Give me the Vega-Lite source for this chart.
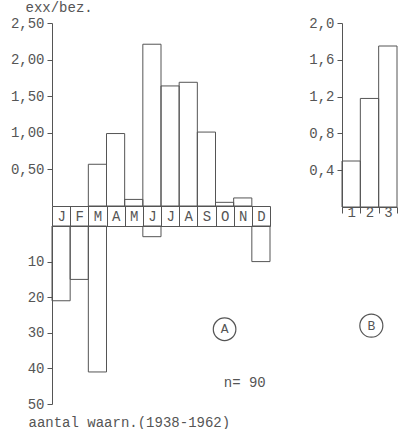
{
  "$schema": "https://vega.github.io/schema/vega-lite/v6.json",
  "padding": {"left": 10, "top": 0, "right": 5, "bottom": 0},
  "columns": 2,
  "spacing": {"row": 19, "column": 72},
  "bounds": "flush",
  "align": "each",
  "config": {
    "view": {"stroke": null},
    "font": "Liberation Mono",
    "axis": {
      "labelFont": "Liberation Mono", "labelFontSize": 14, "labelColor": "#555",
      "titleFont": "Liberation Mono", "titleFontSize": 14, "titleFontWeight": "normal", "titleColor": "#555",
      "domainColor": "#555", "tickColor": "#555", "grid": false, "tickSize": 5, "labelPadding": 3,
      "domainWidth": 1, "tickWidth": 1, "labelOverlap": false
    },
    "text": {"font": "Liberation Mono", "fontSize": 14, "color": "#555"}
  },
  "concat": [
    {
      "width": 218, "height": 183,
      "data": {"values": [
        {"m": 3, "v": 0.57}, {"m": 4, "v": 0.99}, {"m": 5, "v": 0.09}, {"m": 6, "v": 2.21},
        {"m": 7, "v": 1.64}, {"m": 8, "v": 1.69}, {"m": 9, "v": 1.01}, {"m": 10, "v": 0.05}, {"m": 11, "v": 0.11}
      ]},
      "mark": {"type": "bar", "filled": false, "stroke": "#555", "strokeWidth": 1},
      "encoding": {
        "x": {"field": "m", "type": "ordinal",
          "scale": {"domain": [1,2,3,4,5,6,7,8,9,10,11,12], "paddingInner": 0, "paddingOuter": 0},
          "axis": {"title": null, "orient": "bottom", "tickBand": "extent", "tickSize": 20, "labelPadding": -10,
            "labelBaseline": "middle", "labelAngle": 0,
            "labelExpr": "['J','F','M','A','M','J','J','A','S','O','N','D'][datum.value-1]"}},
        "y": {"field": "v", "type": "quantitative", "scale": {"domain": [0, 2.5], "nice": false},
          "axis": {"title": "exx/bez.", "values": [0.5, 1, 1.5, 2, 2.5],
            "labelExpr": "replace(format(datum.value,'.2f'),'.',',')",
            "titleAngle": 0, "titleAlign": "left", "titleBaseline": "alphabetic", "titleX": -27, "titleY": -12}}
      }
    },
    {
      "width": 55, "height": 184,
      "data": {"values": [{"k": 1, "v": 0.5}, {"k": 2, "v": 1.18}, {"k": 3, "v": 1.75}]},
      "mark": {"type": "bar", "filled": false, "stroke": "#555", "strokeWidth": 1},
      "encoding": {
        "x": {"field": "k", "type": "ordinal", "scale": {"domain": [1,2,3], "paddingInner": 0, "paddingOuter": 0},
          "axis": {"title": null, "tickBand": "extent", "tickSize": 6, "labelPadding": -1, "labelBaseline": "middle", "labelAngle": 0}},
        "y": {"field": "v", "type": "quantitative", "scale": {"domain": [0, 2], "nice": false},
          "axis": {"title": null, "values": [0.4, 0.8, 1.2, 1.6, 2.0],
            "labelExpr": "replace(format(datum.value,'.1f'),'.',',')"}}
      }
    },
    {
      "width": 218, "height": 178,
      "encoding": {
        "x": {"field": "m", "type": "ordinal",
          "scale": {"domain": [1,2,3,4,5,6,7,8,9,10,11,12], "paddingInner": 0, "paddingOuter": 0},
          "axis": {"title": null, "orient": "top", "labels": false, "ticks": false, "domain": true}},
        "y": {"field": "v", "type": "quantitative", "scale": {"domain": [0, 50], "nice": false, "reverse": true},
          "axis": {"title": "aantal waarn.(1938-1962)", "values": [10, 20, 30, 40, 50],
            "titleAngle": 0, "titleAlign": "left", "titleBaseline": "alphabetic", "titleX": -24, "titleY": 200}}
      },
      "layer": [
        {
          "data": {"values": [{"m": 1, "v": 21}, {"m": 2, "v": 15}, {"m": 3, "v": 41}, {"m": 6, "v": 3}, {"m": 12, "v": 10}]},
          "mark": {"type": "bar", "filled": false, "stroke": "#555", "strokeWidth": 1}
        },
        {
          "data": {"values": [{"m": 10, "v": 29, "t": "A"}]},
          "mark": {"type": "point", "shape": "circle", "size": 510, "filled": false, "stroke": "#555", "strokeWidth": 1.2, "opacity": 1}
        },
        {
          "data": {"values": [{"m": 10, "v": 29, "t": "A"}]},
          "mark": {"type": "text", "fontSize": 13, "baseline": "middle", "align": "center"},
          "encoding": {"text": {"field": "t"}}
        },
        {
          "data": {"values": [{"m": 11, "v": 44.2, "t": "n= 90"}]},
          "mark": {"type": "text", "fontSize": 14, "baseline": "middle", "align": "center", "dx": 2},
          "encoding": {"text": {"field": "t"}}
        }
      ]
    },
    {
      "width": 55, "height": 178,
      "data": {"values": [{"x": 1.6, "v": 28, "t": "B"}]},
      "encoding": {
        "x": {"field": "x", "type": "quantitative", "scale": {"domain": [0, 3], "nice": false}, "axis": null},
        "y": {"field": "v", "type": "quantitative", "scale": {"domain": [0, 50], "nice": false, "reverse": true}, "axis": null}
      },
      "layer": [
        {"mark": {"type": "point", "shape": "circle", "size": 530, "filled": false, "stroke": "#555", "strokeWidth": 1.2, "opacity": 1}},
        {"mark": {"type": "text", "fontSize": 13, "baseline": "middle", "align": "center"}, "encoding": {"text": {"field": "t"}}}
      ]
    }
  ]
}
